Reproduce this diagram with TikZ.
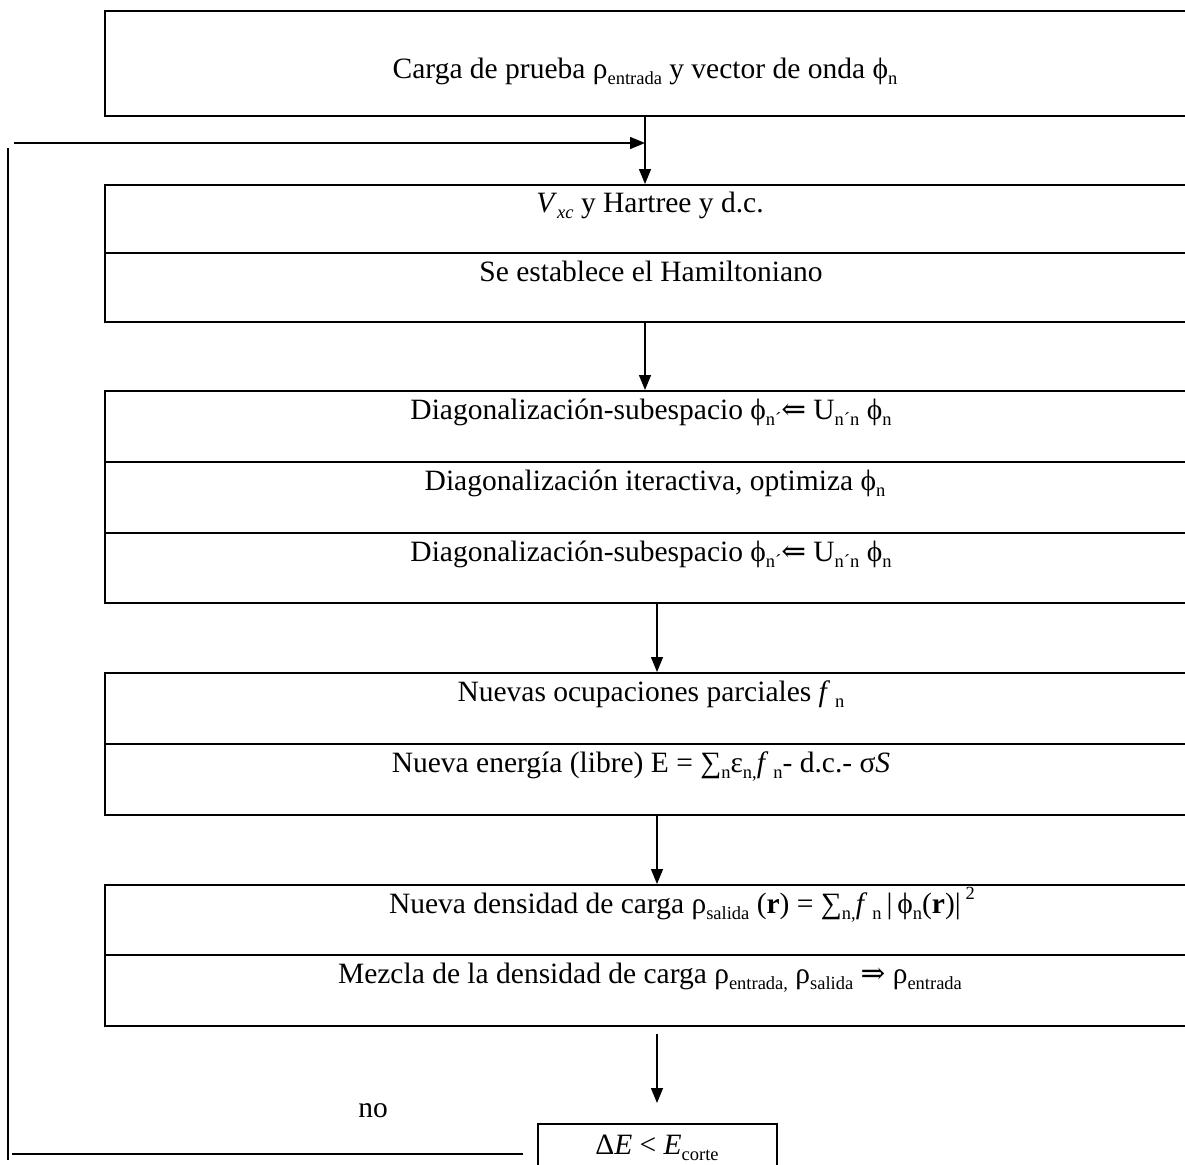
\documentclass[tikz,border=0pt]{standalone}
\usepackage{fontspec}
\setmainfont{Liberation Serif}
\newfontfamily\arrfont{DejaVu Serif}
\usetikzlibrary{arrows.meta,calc}
\newcommand{\lw}[1]{\raisebox{-0.22em}{\fontsize{18.5}{18.5}\selectfont #1}}
\newcommand{\upp}[1]{\raisebox{0.45em}{\fontsize{18.5}{18.5}\selectfont #1}}
\begin{document}
\begin{tikzpicture}[x=1pt,y=-1pt,
  frame/.style={draw, line width=2pt, rectangle, inner sep=0pt},
  rowtxt/.style={anchor=base, inner sep=0pt, font=\fontsize{29.5}{34}\selectfont},
  flow/.style={-{Triangle[length=15pt,width=12pt]}, line width=1.4pt},
  loopline/.style={line width=1.4pt}]
\useasboundingbox (0,0) rectangle (1185,1164);
\clip (0,0) rectangle (1185,1164);
\fill[white] (0,0) rectangle (1185,1164);

% boxes (right side extends past the page edge)
\node[frame, minimum width=1090pt, minimum height=105pt] (b1) at (650,63.5) {};
\node[frame, minimum width=1090pt, minimum height=137pt] (b2) at (650,253.5) {};
\node[frame, minimum width=1090pt, minimum height=212pt] (b3) at (650,497) {};
\node[frame, minimum width=1090pt, minimum height=142pt] (b4) at (650,744) {};
\node[frame, minimum width=1090pt, minimum height=141pt] (b5) at (650,955.5) {};
\node[frame, minimum width=239pt, minimum height=80pt] (b6) at (657.5,1164) {};

% row dividers
\coordinate (d2) at (0,253);
\coordinate (d3a) at (0,462);
\coordinate (d3b) at (0,533);
\coordinate (d4) at (0,744);
\coordinate (d5) at (0,955);
\draw[line width=2pt] (b2.west |- d2) -- (b2.east |- d2);
\draw[line width=2pt] (b3.west |- d3a) -- (b3.east |- d3a);
\draw[line width=2pt] (b3.west |- d3b) -- (b3.east |- d3b);
\draw[line width=2pt] (b4.west |- d4) -- (b4.east |- d4);
\draw[line width=2pt] (b5.west |- d5) -- (b5.east |- d5);

% texts
\node[rowtxt] (t1) at (645,78) {Carga de prueba ρ\lw{entrada} y vector de onda ϕ\lw{n}};
\node[rowtxt] (t2a) at (650,212) {\textit{V}\lw{\textit{xc}} y Hartree y d.c.};
\node[rowtxt] (t2b) at (651,281) {Se establece el Hamiltoniano};
\node[rowtxt] (t3a) at (651,419) {Diagonalización-subespacio ϕ\lw{n´}{\arrfont ⇐} U\lw{n´n} ϕ\lw{n}};
\node[rowtxt] (t3b) at (655,490) {Diagonalización iteractiva, optimiza ϕ\lw{n}};
\node[rowtxt] (t3c) at (651,561) {Diagonalización-subespacio ϕ\lw{n´}{\arrfont ⇐} U\lw{n´n} ϕ\lw{n}};
\node[rowtxt] (t4a) at (651,701) {Nuevas ocupaciones parciales \textit{f}\,\lw{n}};
\node[rowtxt] (t4b) at (641,772) {Nueva energía (libre) E = ∑\lw{n}ε\lw{n,}\textit{f}\,\lw{n}- d.c.- σ\textit{S}};
\node[rowtxt] (t5a) at (682,913) {Nueva densidad de carga ρ\lw{salida} (\textbf{r}) = ∑\lw{n,}\textit{f}\,\lw{n}\,|\,ϕ\lw{n}(\textbf{r})|\,\upp{2}};
\node[rowtxt] (t5b) at (650,983) {Mezcla de la densidad de carga ρ\lw{entrada,} ρ\lw{salida} {\arrfont ⇒} ρ\lw{entrada}};
\node[rowtxt] (t6) at (657,1154) {Δ\textit{E} < \textit{E}\lw{corte}};
\node[rowtxt] (no) at (373,1117) {no};

% arrows
\coordinate (ax1) at (645,0);
\coordinate (ax2) at (657,0);
\draw[flow] (b1.south -| ax1) -- (b2.north -| ax1);
\draw[flow] (b2.south -| ax1) -- (b3.north -| ax1);
\draw[flow] (b3.south -| ax2) -- (b4.north -| ax2);
\draw[flow] (b4.south -| ax2) -- (b5.north -| ax2);
\draw[flow] ($(b5.south -| ax2)+(0,7)$) -- ($(b6.north -| ax2)+(0,-20)$);

% feedback loop
\coordinate (lb1) at (523,1154);
\coordinate (lb2) at (12,1154);
\coordinate (lv1) at (8,1160);
\coordinate (lv2) at (8,148);
\coordinate (lt1) at (14,143);
\coordinate (lt2) at (645,143);
\draw[loopline] (lb1) -- (lb2);
\draw[loopline] (lv1) -- (lv2);
\draw[flow] (lt1) -- (lt2);
\end{tikzpicture}
\end{document}
